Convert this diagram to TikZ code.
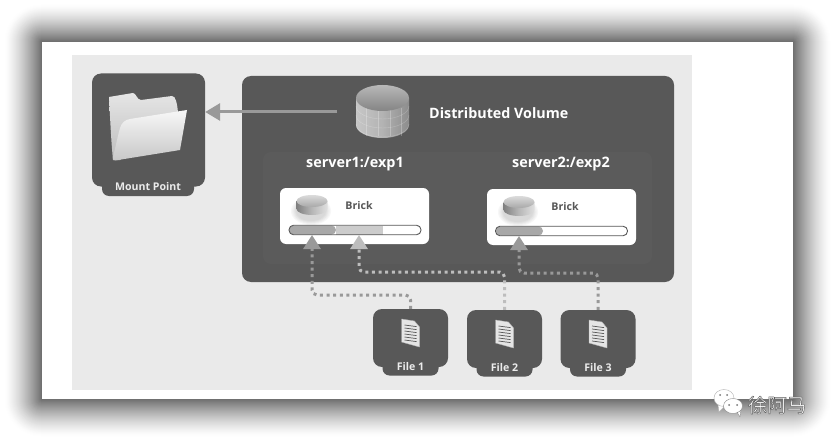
\documentclass[tikz,border=0pt]{standalone}
\usepackage{fontspec}
\setmainfont{Open Sans}
\newfontfamily\cjkfont{Noto Sans CJK SC}
\usepackage{tikz}
\usetikzlibrary{arrows.meta,calc,fit,positioning}
\definecolor{PanelDark}{HTML}{585858}
\definecolor{PanelInner}{HTML}{5B5B5B}
\definecolor{PaperGray}{HTML}{EAEAEA}
\definecolor{LinkGray}{HTML}{999999}
\definecolor{LinkLight}{HTML}{BDBDBD}
\definecolor{BrickText}{HTML}{575757}
\definecolor{SlotDark}{HTML}{A8A8A8}
\definecolor{SlotLight}{HTML}{CCCCCC}
\tikzset{
  darkbox/.style={fill=PanelDark,rounded corners=9pt,inner sep=0pt},
  pillbox/.style={fill=PanelDark,rounded corners=7pt,inner sep=0pt,text=white!92!black,
    font=\fontsize{10.6}{12}\selectfont\bfseries},
  brickbox/.style={fill=white,rounded corners=6pt,minimum width=149pt,
    minimum height=56pt,inner sep=0pt},
  bricklabel/.style={text=BrickText,inner sep=0pt,
    font=\fontsize{10.6}{12}\selectfont\bfseries},
  serverlabel/.style={text=white,inner sep=0pt,
    font=\fontsize{14.4}{16}\selectfont\bfseries},
  slotbar/.style={draw=BrickText,line width=0.9pt,rounded corners=4.5pt,
    minimum width=132pt,minimum height=9.5pt,inner sep=0pt},
  dotlink/.style={line width=3pt,dash pattern=on 3pt off 3.6pt,rounded corners=5pt,
    -{Triangle[length=14pt,width=17pt]}},
}
\newcommand{\drawfilebox}[4]{%
  \node[darkbox,minimum width=75pt,minimum height=58pt] (#1) at (#2,#3) {};
  \node[pillbox,minimum width=56pt,minimum height=17pt] (#1label)
    at (#2,#3+29) {#4};
  \path[fill=white!90!black,draw=white!70!black,line width=0.4pt]
    ({#2-9},{#3-19}) -- ({#2+4},{#3-17}) -- ({#2+9},{#3-11})
    -- ({#2+9},{#3+9}) -- ({#2-9},{#3+4}) -- cycle;
  \foreach \rowy in {-13,-10,-7,-4,-1,2}
    \draw[black!65,line width=0.7pt]
      ({#2-6},{#3+\rowy}) -- ({#2+6},{#3+\rowy+1.6});
}
\newcommand{\drawbrickdisk}[2]{%
  \foreach \blur in {6,5,...,1}
    \path[fill=black!\the\numexpr 18-\blur*3\relax] (#1-1,#2+5) ellipse ({14+\blur*1.2} and {9+\blur});
  \path[left color=black!50,right color=black!12,middle color=black!28]
    (#1-15.5,#2-5) -- (#1-15.5,#2+3) arc[start angle=180,end angle=360,
    x radius=15.5pt,y radius=6pt] -- (#1+15.5,#2-5) -- cycle;
  \path[top color=black!14,bottom color=black!34] (#1,#2-5) ellipse (15.5pt and 6pt);
}
\begin{document}
\begin{tikzpicture}[x=1pt,y=-1pt,line cap=butt,line join=round]
    \useasboundingbox (0,0) rectangle (835,441);
    \fill[white] (0,0) rectangle (835,441);
    % shadow of the scanned page
    \foreach \d in {37,36,...,1} {
      \pgfmathsetmacro{\shade}{58*pow(1-\d/38,1.4)}
      \fill[black!\shade,rounded corners=\d pt]
        ({42-\d},{42-\d}) rectangle ({793+\d},{399+\d});
    }
    \fill[white] (42,42) rectangle (793,399);
    \fill[PaperGray] (72,55) rectangle (692,390);

    % volume panel
    \node[darkbox,minimum width=432pt,minimum height=206pt] (volume) at (458,179) {};
    \fill[PanelInner,rounded corners=8pt] (263,152) rectangle (652,264);
    \node[text=white,inner sep=0pt,font=\fontsize{14.3}{16}\selectfont\bfseries,
      anchor=west] (voltitle) at (429,113) {Distributed Volume};
    \node[serverlabel] (serverone) at (355,164) {server1:/exp1};
    \node[serverlabel] (servertwo) at (561,164) {server2:/exp2};

    % volume cylinder
    \path[left color=black!22,right color=black!45,middle color=black!30]
      (356,98) -- (356,125) arc[start angle=180,end angle=360,
      x radius=26.5pt,y radius=13pt] -- (409,98) -- cycle;
    \foreach \gridy in {106,115,124}
      \draw[white,opacity=0.25,line width=0.4pt] (356,\gridy)
        arc[start angle=180,end angle=360,x radius=26.5pt,y radius=13pt];
    \foreach \gridx in {366,378,390,401}
      \draw[white,opacity=0.25,line width=0.4pt] (\gridx,108) -- (\gridx,136);
    \path[top color=black!28,bottom color=black!48] (382.5,98) ellipse (26.5pt and 13pt);
    \coordinate (diskleft) at (337,112);

    % mount point
    \node[darkbox,minimum width=113pt,minimum height=113pt] (mountbox) at (148.5,130) {};
    \node[pillbox,minimum width=92pt,minimum height=18pt] (mountlabel)
      at (148,187) {Mount Point};
    \path[top color=black!10,bottom color=black!26]
      (109,97) -- (133,93) .. controls (136,93) and (137,100) .. (141,100)
      -- (172,96) .. controls (176,96) and (177,104) .. (178,112)
      -- (120,160) -- (113,160) .. controls (111,140) and (110,115) .. (109,97) -- cycle;
    \path[top color=black!3,bottom color=black!22]
      (187,110) -- (180,150) -- (118,160)
      .. controls (114,161) and (112,160) .. (113,157)
      .. controls (116,145) and (118,135) .. (120,128)
      .. controls (122,122) and (125,120) .. (130,119) -- cycle;
    \draw[-{Triangle[length=15pt,width=17pt]},LinkGray,line width=3pt]
      (diskleft) -- (mountbox.east |- diskleft);

    % bricks
    \node[brickbox] (brickone) at (354.5,216) {};
    \node[brickbox] (bricktwo) at (561.5,217) {};
    \drawbrickdisk{312}{206}
    \drawbrickdisk{519}{207}
    \node[bricklabel] (brickonetext) at (359,206) {Brick};
    \node[bricklabel] (bricktwotext) at (565,207) {Brick};
    \fill[SlotDark,rounded corners=4.5pt] (289,225.5) -- (336,225.5) -- (336,234.5) -- (289,234.5) -- cycle;
    \fill[SlotLight] (336,225.5) rectangle (383,234.5);
    \fill[SlotDark,rounded corners=4.5pt] (496,226.5) -- (543,226.5) -- (543,235.5) -- (496,235.5) -- cycle;
    \node[slotbar] (barone) at (355,230) {};
    \node[slotbar] (bartwo) at (561.5,231) {};
    \coordinate (slotone) at (312,235);
    \coordinate (slottwo) at (359,235);
    \coordinate (slotthree) at (519,236);

    % files
    \drawfilebox{fileone}{410.5}{338}{File 1}
    \drawfilebox{filetwo}{504.5}{339}{File 2}
    \drawfilebox{filethree}{598}{339}{File 3}
    \draw[dotlink,LinkGray] (fileone.north) |- (312,295) -- (slotone);
    \draw[dotlink,LinkLight] (filetwo.north) |- (359,272) -- (slottwo);
    \draw[dotlink,LinkGray] (filethree.north) |- (519,273) -- (slotthree);

    % chat mark in the corner
    \path[fill=white,draw=black!30,line width=0.4pt]
      (724,398) ellipse (10pt and 8.5pt) (718,405) -- (719,412) -- (725,406);
    \path[fill=white,draw=black!45,line width=0.4pt]
      (733,406) ellipse (9.5pt and 7.5pt) (737,412) -- (740,417) -- (741,410);
    \foreach \eyex/\eyey in {720/395,727/395,729/405,737/405}
      \fill[black!55] (\eyex,\eyey) circle (1pt);
    \node[text=white,inner sep=0pt,font=\cjkfont\fontsize{19.5}{21}\selectfont]
      (markname) at (777,405)
      {\special{pdf:code 2 Tr 0.45 w 0.35 G}徐阿马};
  \end{tikzpicture}
\end{document}
